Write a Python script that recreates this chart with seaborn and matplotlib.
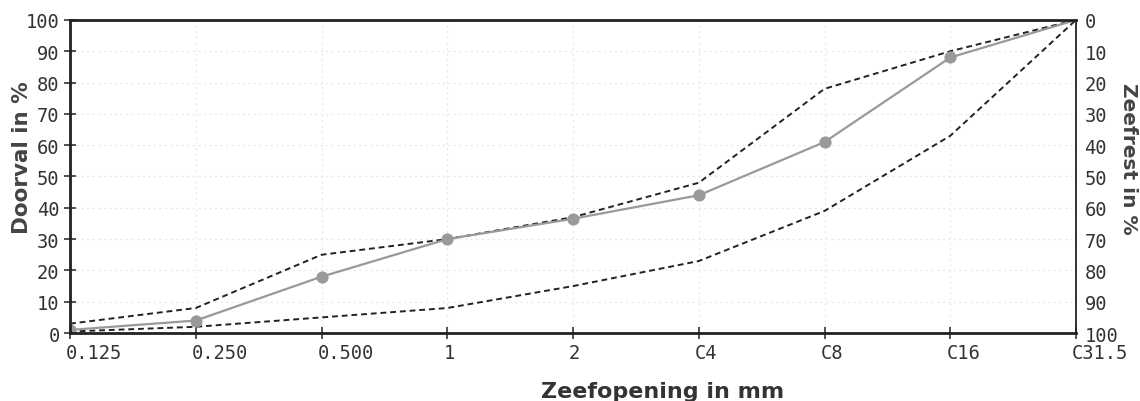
import matplotlib
matplotlib.use("Agg")
import matplotlib.pyplot as plt
import matplotlib.transforms as mtransforms
import seaborn as sns
import pandas as pd

sieves = ["0.125", "0.250", "0.500", "1", "2", "C4", "C8", "C16", "C31.5"]
sample = [1, 4, 18, 30, 36.5, 44, 61, 88, 100]
upper_limit = [3, 8, 25, 30, 37, 48, 78, 90, 100]
lower_limit = [0.5, 2, 5, 8, 15, 23, 39, 63, 100]
y_ticks = [0, 10, 20, 30, 40, 50, 60, 70, 80, 90, 100]

sns.set_theme(style="white")
plt.rcParams["font.family"] = ["DejaVu Sans"]

df = pd.DataFrame({
    "sieve": sieves * 3,
    "value": upper_limit + lower_limit + sample,
    "series": ["upper"] * 9 + ["lower"] * 9 + ["sample"] * 9,
})

fig = plt.figure(figsize=(11.4, 4.02), dpi=100)
ax = fig.add_axes([0.0614, 0.169, 0.8825, 0.779])

sub_u = df[df.series == "upper"]
sub_l = df[df.series == "lower"]
sub_s = df[df.series == "sample"]
sns.lineplot(data=sub_u, x="sieve", y="value", ax=ax, color="#222222",
             linewidth=1.4, linestyle=(0, (3, 2)), sort=False)
sns.lineplot(data=sub_l, x="sieve", y="value", ax=ax, color="#222222",
             linewidth=1.4, linestyle=(0, (3, 2)), sort=False)
sns.lineplot(data=sub_s, x="sieve", y="value", ax=ax, color="#999999",
             linewidth=1.6, marker="o", markersize=8, markeredgecolor="#999999",
             markevery=list(range(len(sieves) - 1)), sort=False)

ax.set_xlim(0, len(sieves) - 1)
ax.set_ylim(0, 100)
ax.set_xticks(range(len(sieves)))
ax.set_xticklabels(sieves)
ax.set_yticks(y_ticks)

mono = "DejaVu Sans Mono"
ax.tick_params(axis="both", which="major", direction="inout", length=9,
               width=1.2, color="#333333", labelsize=13.5, labelcolor="#333333",
               bottom=True, left=True, pad=3)
for lab in ax.get_xticklabels():
    lab.set_family(mono)
    lab.set_horizontalalignment("left")
    lab.set_transform(lab.get_transform() + mtransforms.ScaledTranslation(-4 / 100, 0, fig.dpi_scale_trans))
for lab in ax.get_yticklabels():
    lab.set_family(mono)

ax.grid(True, color="#e8e8e8", linestyle=(0, (2, 3)), linewidth=0.8)
for side in ["left", "bottom", "top"]:
    ax.spines[side].set_color("#222222")
    ax.spines[side].set_linewidth(2)
ax.spines["right"].set_color("#222222")
ax.spines["right"].set_linewidth(1.3)

ax.set_xlabel("Zeefopening in mm", fontsize=16, fontweight="bold", color="#333333")
ax.xaxis.set_label_coords((663 - 70) / 1006, -(392 - 334) / 313)
ax.xaxis.label.set_verticalalignment("center")
ax.set_ylabel("Doorval in %", fontsize=15.5, fontweight="bold", color="#444444")
ax.yaxis.set_label_coords(-(70 - 22) / 1006, 0.562)
ax.yaxis.label.set_verticalalignment("center")

ax2 = ax.twinx()
ax2.set_ylim(100, 0)
ax2.set_yticks(y_ticks)
ax2.tick_params(axis="y", length=0, labelsize=13.5, labelcolor="#333333", pad=6)
for lab in ax2.get_yticklabels():
    lab.set_family(mono)
for s in ax2.spines.values():
    s.set_visible(False)
ax2.set_ylabel("Zeefrest in %", fontsize=14.5, fontweight="bold", color="#444444",
               rotation=-90)
ax2.yaxis.set_label_coords(1 + (1128 - 1076) / 1006, 0.56)
ax2.yaxis.label.set_verticalalignment("center")

fig.savefig("out.png", dpi=100)
